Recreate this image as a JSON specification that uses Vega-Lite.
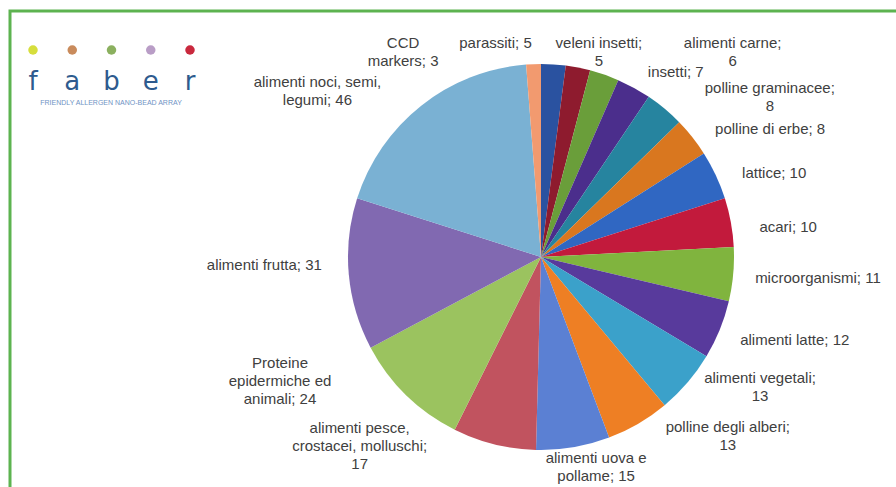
{
  "$schema": "https://vega.github.io/schema/vega-lite/v6.json",
  "width": 710,
  "height": 460,
  "autosize": "none",
  "padding": {"left": 186, "top": 27, "right": 0, "bottom": 0},
  "background": "white",
  "config": {
    "view": {"stroke": null},
    "text": {"font": "Liberation Sans", "fontSize": 15, "fill": "#404040", "lineBreak": "\n", "lineHeight": 18, "baseline": "middle"}
  },
  "data": {"values": [
    {"i": 1, "cat": "parassiti", "v": 5, "label": "parassiti; 5"},
    {"i": 2, "cat": "veleni insetti", "v": 5, "label": "veleni insetti;\n5"},
    {"i": 3, "cat": "alimenti carne", "v": 6, "label": "alimenti carne;\n6"},
    {"i": 4, "cat": "insetti", "v": 7, "label": "insetti; 7"},
    {"i": 5, "cat": "polline graminacee", "v": 8, "label": "polline graminacee;\n8"},
    {"i": 6, "cat": "polline di erbe", "v": 8, "label": "polline di erbe; 8"},
    {"i": 7, "cat": "lattice", "v": 10, "label": "lattice; 10"},
    {"i": 8, "cat": "acari", "v": 10, "label": "acari; 10"},
    {"i": 9, "cat": "microorganismi", "v": 11, "label": "microorganismi; 11"},
    {"i": 10, "cat": "alimenti latte", "v": 12, "label": "alimenti latte; 12"},
    {"i": 11, "cat": "alimenti vegetali", "v": 13, "label": "alimenti vegetali;\n13"},
    {"i": 12, "cat": "polline degli alberi", "v": 13, "label": "polline degli alberi;\n13"},
    {"i": 13, "cat": "alimenti uova e pollame", "v": 15, "label": "alimenti uova e\npollame; 15"},
    {"i": 14, "cat": "alimenti pesce, crostacei, molluschi", "v": 17, "label": "alimenti pesce,\ncrostacei, molluschi;\n17"},
    {"i": 15, "cat": "Proteine epidermiche ed animali", "v": 24, "label": "Proteine\nepidermiche ed\nanimali; 24"},
    {"i": 16, "cat": "alimenti frutta", "v": 31, "label": "alimenti frutta; 31"},
    {"i": 17, "cat": "alimenti noci, semi, legumi", "v": 46, "label": "alimenti noci, semi,\nlegumi; 46"},
    {"i": 18, "cat": "CCD markers", "v": 3, "label": "CCD\nmarkers; 3"}
  ]},
  "encoding": {
    "theta": {"field": "v", "type": "quantitative", "stack": true},
    "order": {"field": "i", "type": "quantitative"}
  },
  "layer": [
    {
      "data": {"values": [{}]},
      "mark": {"type": "rect", "fill": null, "stroke": "#5DB350", "strokeWidth": 3},
      "encoding": {"theta": null, "order": null, "x": {"value": -176}, "x2": {"value": 730}, "y": {"value": -16}, "y2": {"value": 500}}
    },
    {
      "mark": {"type": "arc", "outerRadius": 193},
      "encoding": {
        "color": {
          "field": "cat", "type": "nominal", "legend": null,
          "scale": {
            "domain": ["parassiti", "veleni insetti", "alimenti carne", "insetti", "polline graminacee", "polline di erbe", "lattice", "acari", "microorganismi", "alimenti latte", "alimenti vegetali", "polline degli alberi", "alimenti uova e pollame", "alimenti pesce, crostacei, molluschi", "Proteine epidermiche ed animali", "alimenti frutta", "alimenti noci, semi, legumi", "CCD markers"],
            "range": ["#2A52A0", "#8E1B2E", "#6A9E3A", "#4B2E8C", "#26849F", "#D9771F", "#3067C2", "#C21A3C", "#80B43E", "#583A9C", "#3BA1CA", "#EE7F24", "#5B80D3", "#C1535F", "#9BC35F", "#8169B1", "#7AB1D3", "#F29A6F"]
          }
        }
      }
    },
    {
      "mark": {"type": "text", "radius": 222, "align": "left", "dy": 10},
      "encoding": {"text": {"condition": {"test": "datum.i == 4 || datum.i == 6 || datum.i == 7 || datum.i == 8", "field": "label"}, "value": ""}}
    },
    {
      "mark": {"type": "text", "radius": 215, "align": "left", "dy": 2},
      "encoding": {"text": {"condition": {"test": "datum.i == 9 || datum.i == 10", "field": "label"}, "value": ""}}
    },
    {
      "mark": {"type": "text", "radius": 212, "align": "center", "dx": 93, "dy": -6},
      "encoding": {"text": {"condition": {"test": "datum.i == 5", "field": "label"}, "value": ""}}
    },
    {
      "mark": {"type": "text", "radius": 212, "align": "center", "dx": 58, "dy": -17},
      "encoding": {"text": {"condition": {"test": "datum.i == 11", "field": "label"}, "value": ""}}
    },
    {
      "mark": {"type": "text", "radius": 212, "align": "center", "dx": 80, "dy": -13},
      "encoding": {"text": {"condition": {"test": "datum.i == 12", "field": "label"}, "value": ""}}
    },
    {
      "mark": {"type": "text", "radius": 205, "align": "center", "dx": 21, "dy": -1},
      "encoding": {"text": {"condition": {"test": "datum.i == 13", "field": "label"}, "value": ""}}
    },
    {
      "mark": {"type": "text", "radius": 212, "align": "center", "dx": -130, "dy": -35},
      "encoding": {"text": {"condition": {"test": "datum.i == 14", "field": "label"}, "value": ""}}
    },
    {
      "mark": {"type": "text", "radius": 212, "align": "center", "dx": -113, "dy": -46},
      "encoding": {"text": {"condition": {"test": "datum.i == 15", "field": "label"}, "value": ""}}
    },
    {
      "mark": {"type": "text", "radius": 220, "align": "right", "dy": -12},
      "encoding": {"text": {"condition": {"test": "datum.i == 16", "field": "label"}, "value": ""}}
    },
    {
      "mark": {"type": "text", "radius": 212, "align": "center", "dx": -92, "dy": -9},
      "encoding": {"text": {"condition": {"test": "datum.i == 17", "field": "label"}, "value": ""}}
    },
    {
      "mark": {"type": "text", "radius": 205, "align": "center", "dx": -130, "dy": -9},
      "encoding": {"text": {"condition": {"test": "datum.i == 18", "field": "label"}, "value": ""}}
    },
    {
      "mark": {"type": "text", "radius": 214, "align": "right", "dx": -23},
      "encoding": {"text": {"condition": {"test": "datum.i == 1", "field": "label"}, "value": ""}}
    },
    {
      "mark": {"type": "text", "radius": 208, "align": "center", "dx": 18, "dy": -10},
      "encoding": {"text": {"condition": {"test": "datum.i == 2", "field": "label"}, "value": ""}}
    },
    {
      "mark": {"type": "text", "radius": 215, "align": "center", "dx": 121, "dy": -11},
      "encoding": {"text": {"condition": {"test": "datum.i == 3", "field": "label"}, "value": ""}}
    },
    {
      "data": {"values": [{"letter": "f"}, {"letter": "a"}, {"letter": "b"}, {"letter": "e"}, {"letter": "r"}]},
      "mark": {"type": "point", "filled": true, "size": 90, "opacity": 1},
      "encoding": {
        "theta": null, "order": null,
        "x": {"field": "letter", "type": "nominal", "axis": null, "sort": null, "scale": {"type": "point", "domain": ["f", "a", "b", "e", "r"], "range": [-153, 4], "padding": 0}},
        "y": {"value": 23},
        "fill": {"field": "letter", "type": "nominal", "legend": null, "scale": {"domain": ["f", "a", "b", "e", "r"], "range": ["#D6DE3C", "#C98B5C", "#8BB05F", "#B99DC6", "#C9283D"]}}
      }
    },
    {
      "data": {"values": [{"letter": "f"}, {"letter": "a"}, {"letter": "b"}, {"letter": "e"}, {"letter": "r"}]},
      "mark": {"type": "text", "font": "DejaVu Sans", "fontSize": 26, "fill": "#2E5B8E", "baseline": "middle", "align": "center"},
      "encoding": {
        "theta": null, "order": null,
        "x": {"field": "letter", "type": "nominal", "axis": null, "sort": null, "scale": {"type": "point", "domain": ["f", "a", "b", "e", "r"], "range": [-153, 4], "padding": 0}},
        "y": {"value": 55},
        "text": {"field": "letter"}
      }
    },
    {
      "data": {"values": [{"t": "FRIENDLY ALLERGEN NANO-BEAD ARRAY"}]},
      "mark": {"type": "text", "font": "Liberation Sans", "fontSize": 7, "fill": "#6F93C4", "baseline": "middle", "align": "center"},
      "encoding": {"theta": null, "order": null, "x": {"value": -75}, "y": {"value": 76}, "text": {"field": "t"}}
    }
  ]
}
